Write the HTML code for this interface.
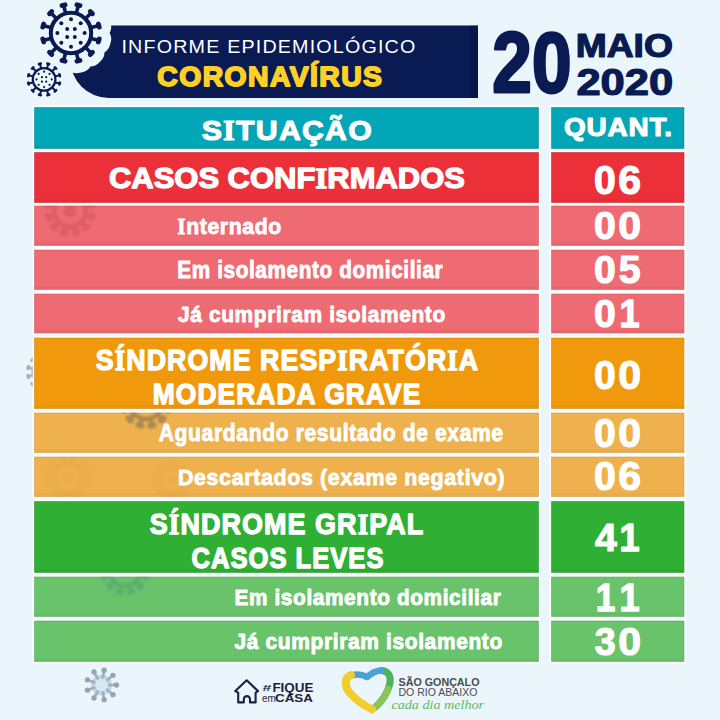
<!DOCTYPE html>
<html><head><meta charset="utf-8">
<style>
html,body{margin:0;padding:0;background:#ebf6fc;}
body{width:720px;height:720px;overflow:hidden;}
svg{display:block;}
text{font-family:"Liberation Sans",sans-serif;}
</style></head>
<body>
<svg width="720" height="720" viewBox="0 0 720 720">
<rect width="720" height="720" fill="#ebf6fc"/>
<defs>
<g id="vhalo" fill="#ebf6fc" stroke="#ebf6fc" stroke-linecap="round">
<circle cx="0" cy="0" r="30"/>
<path stroke-width="16" d="M5.44 -20.28L7.25 -27.05M14.85 -14.85L19.80 -19.80M20.28 -5.44L27.05 -7.25M20.28 5.44L27.05 7.25M14.85 14.85L19.80 19.80M5.44 20.28L7.25 27.05M-5.44 20.28L-7.25 27.05M-14.85 14.85L-19.80 19.80M-20.28 5.44L-27.05 7.25M-20.28 -5.44L-27.05 -7.25M-14.85 -14.85L-19.80 -19.80M-5.44 -20.28L-7.25 -27.05"/>
<path stroke-width="24" d="M5.91 -28.23L9.00 -27.40M19.23 -21.50L21.50 -19.23M27.40 -9.00L28.23 -5.91M28.23 5.91L27.40 9.00M21.50 19.23L19.23 21.50M9.00 27.40L5.91 28.23M-5.91 28.23L-9.00 27.40M-19.23 21.50L-21.50 19.23M-27.40 9.00L-28.23 5.91M-28.23 -5.91L-27.40 -9.00M-21.50 -19.23L-19.23 -21.50M-9.00 -27.40L-5.91 -28.23"/>
</g>
<g id="vir" fill="#0a1a53" stroke="#0a1a53" stroke-linecap="round">
<circle cx="0" cy="0" r="20.2" fill="#eef7fc" stroke-width="4"/>
<path stroke-width="3.6" d="M5.44 -20.28L7.25 -27.05M14.85 -14.85L19.80 -19.80M20.28 -5.44L27.05 -7.25M20.28 5.44L27.05 7.25M14.85 14.85L19.80 19.80M5.44 20.28L7.25 27.05M-5.44 20.28L-7.25 27.05M-14.85 14.85L-19.80 19.80M-20.28 5.44L-27.05 7.25M-20.28 -5.44L-27.05 -7.25M-14.85 -14.85L-19.80 -19.80M-5.44 -20.28L-7.25 -27.05"/>
<path stroke-width="4.8" d="M5.91 -28.23L9.00 -27.40M19.23 -21.50L21.50 -19.23M27.40 -9.00L28.23 -5.91M28.23 5.91L27.40 9.00M21.50 19.23L19.23 21.50M9.00 27.40L5.91 28.23M-5.91 28.23L-9.00 27.40M-19.23 21.50L-21.50 19.23M-27.40 9.00L-28.23 5.91M-28.23 -5.91L-27.40 -9.00M-21.50 -19.23L-19.23 -21.50M-9.00 -27.40L-5.91 -28.23"/>
<g stroke="none">
<circle cx="0" cy="-13.7" r="2"/><circle cx="0" cy="13.7" r="2"/><circle cx="-13.6" cy="0" r="2"/><circle cx="13.6" cy="0" r="2"/>
<circle cx="-9.7" cy="-9.7" r="2"/><circle cx="9.7" cy="-9.7" r="2"/><circle cx="-9.7" cy="9.7" r="2"/><circle cx="9.7" cy="9.7" r="2"/>
<circle cx="-3.8" cy="-4" r="2"/><circle cx="3.8" cy="-4" r="2"/><circle cx="-3.8" cy="4" r="2"/><circle cx="3.8" cy="4" r="2"/>
</g>
</g>
<g id="virg" fill="#8aa0b0" stroke="#8aa0b0" stroke-linecap="round">
<circle cx="0" cy="0" r="20.2" fill="#d5e2ec" stroke-width="5"/>
<path stroke-width="4" d="M5.44 -20.28L7.25 -27.05M14.85 -14.85L19.80 -19.80M20.28 -5.44L27.05 -7.25M20.28 5.44L27.05 7.25M14.85 14.85L19.80 19.80M5.44 20.28L7.25 27.05M-5.44 20.28L-7.25 27.05M-14.85 14.85L-19.80 19.80M-20.28 5.44L-27.05 7.25M-20.28 -5.44L-27.05 -7.25M-14.85 -14.85L-19.80 -19.80M-5.44 -20.28L-7.25 -27.05"/>
<path stroke-width="6" d="M5.91 -28.23L9.00 -27.40M19.23 -21.50L21.50 -19.23M27.40 -9.00L28.23 -5.91M28.23 5.91L27.40 9.00M21.50 19.23L19.23 21.50M9.00 27.40L5.91 28.23M-5.91 28.23L-9.00 27.40M-19.23 21.50L-21.50 19.23M-27.40 9.00L-28.23 5.91M-28.23 -5.91L-27.40 -9.00M-21.50 -19.23L-19.23 -21.50M-9.00 -27.40L-5.91 -28.23"/>
</g>
<g id="virw" fill="currentColor" stroke="currentColor" stroke-linecap="round">
<circle cx="0" cy="0" r="20.2" fill="none" stroke-width="6"/>
<circle cx="0" cy="0" r="8" stroke="none"/>
<path stroke-width="5" d="M5.44 -20.28L7.25 -27.05M14.85 -14.85L19.80 -19.80M20.28 -5.44L27.05 -7.25M20.28 5.44L27.05 7.25M14.85 14.85L19.80 19.80M5.44 20.28L7.25 27.05M-5.44 20.28L-7.25 27.05M-14.85 14.85L-19.80 19.80M-20.28 5.44L-27.05 7.25M-20.28 -5.44L-27.05 -7.25M-14.85 -14.85L-19.80 -19.80M-5.44 -20.28L-7.25 -27.05"/>
<path stroke-width="8" d="M5.91 -28.23L9.00 -27.40M19.23 -21.50L21.50 -19.23M27.40 -9.00L28.23 -5.91M28.23 5.91L27.40 9.00M21.50 19.23L19.23 21.50M9.00 27.40L5.91 28.23M-5.91 28.23L-9.00 27.40M-19.23 21.50L-21.50 19.23M-27.40 9.00L-28.23 5.91M-28.23 -5.91L-27.40 -9.00M-21.50 -19.23L-19.23 -21.50M-9.00 -27.40L-5.91 -28.23"/>
</g>
<filter id="blur1" x="-20%" y="-20%" width="140%" height="140%"><feGaussianBlur stdDeviation="1.3"/></filter>
<filter id="blur05" x="-20%" y="-20%" width="140%" height="140%"><feGaussianBlur stdDeviation="0.6"/></filter>
</defs>
<!-- banner -->
<path d="M70.5 25.4 H478 V98 H108.5 A38 38 0 0 1 70.5 60 Z" fill="#0a1a53"/>
<rect x="470" y="25.4" width="8" height="72.6" fill="#050f3a" opacity="0.35"/>
<use href="#vhalo" transform="translate(71 33)"/>
<use href="#vhalo" transform="translate(44.1 79.4) scale(0.56)"/>
<use href="#vir" transform="translate(71 33)"/>
<use href="#vir" transform="translate(44.1 79.4) scale(0.56)"/>
<text transform="translate(121.43 52.70) scale(1.0296 1)" font-size="19.13" fill="#ffffff" style="font-family:'Liberation Sans';font-weight:normal;font-style:normal;letter-spacing:1.148px">INFORME EPIDEMIOLÓGICO</text>
<text transform="translate(157.27 86.40) scale(1.0142 1)" font-size="27.97" fill="#fdd028" stroke="#fdd028" stroke-width="1.77" stroke-linejoin="round" style="font-family:'Liberation Sans';font-weight:bold;font-style:normal;letter-spacing:1.399px">CORONAVÍRUS</text>
<text transform="translate(492.37 91.54) scale(0.8309 1)" font-size="85.63" fill="#0a1a53" stroke="#0a1a53" stroke-width="2.89" stroke-linejoin="round" style="font-family:'Liberation Sans';font-weight:bold;font-style:normal">20</text>
<text transform="translate(575.70 57.10) scale(1.1209 1)" font-size="33.19" fill="#0a1a53" stroke="#0a1a53" stroke-width="1.25" stroke-linejoin="round" style="font-family:'Liberation Sans';font-weight:bold;font-style:normal">MAIO</text>
<text transform="translate(576.39 94.54) scale(1.2027 1)" font-size="36.20" fill="#0a1a53" stroke="#0a1a53" stroke-width="1.16" stroke-linejoin="round" style="font-family:'Liberation Sans';font-weight:bold;font-style:normal">2020</text>
<!-- wm under rows -->
<use href="#virg" transform="translate(45 372) scale(0.6)" opacity="0.75"/>
<!-- rows -->
<rect x="32.7" y="105.4" width="507.6" height="45.2" fill="#fcfdfd"/>
<rect x="549.7" y="105.4" width="136.1" height="45.2" fill="#fcfdfd"/>
<rect x="32.7" y="150.4" width="507.6" height="54.2" fill="#fcfdfd"/>
<rect x="549.7" y="150.4" width="136.1" height="54.2" fill="#fcfdfd"/>
<rect x="32.7" y="203.9" width="507.6" height="43.7" fill="#fcfdfd"/>
<rect x="549.7" y="203.9" width="136.1" height="43.7" fill="#fcfdfd"/>
<rect x="32.7" y="247.9" width="507.6" height="43.7" fill="#fcfdfd"/>
<rect x="549.7" y="247.9" width="136.1" height="43.7" fill="#fcfdfd"/>
<rect x="32.7" y="291.9" width="507.6" height="43.2" fill="#fcfdfd"/>
<rect x="549.7" y="291.9" width="136.1" height="43.2" fill="#fcfdfd"/>
<rect x="32.7" y="335.9" width="507.6" height="74.7" fill="#fcfdfd"/>
<rect x="549.7" y="335.9" width="136.1" height="74.7" fill="#fcfdfd"/>
<rect x="32.7" y="410.9" width="507.6" height="43.7" fill="#fcfdfd"/>
<rect x="549.7" y="410.9" width="136.1" height="43.7" fill="#fcfdfd"/>
<rect x="32.7" y="454.9" width="507.6" height="43.7" fill="#fcfdfd"/>
<rect x="549.7" y="454.9" width="136.1" height="43.7" fill="#fcfdfd"/>
<rect x="32.7" y="499.4" width="507.6" height="75.2" fill="#fcfdfd"/>
<rect x="549.7" y="499.4" width="136.1" height="75.2" fill="#fcfdfd"/>
<rect x="32.7" y="574.9" width="507.6" height="43.7" fill="#fcfdfd"/>
<rect x="549.7" y="574.9" width="136.1" height="43.7" fill="#fcfdfd"/>
<rect x="32.7" y="618.9" width="507.6" height="44.7" fill="#fcfdfd"/>
<rect x="549.7" y="618.9" width="136.1" height="44.7" fill="#fcfdfd"/>
<rect x="34.5" y="107.5" width="504" height="41" fill="#03a6b6" stroke="#028896" stroke-width="1" stroke-opacity="0.55"/>
<rect x="35" y="145" width="503" height="3" fill="#028896" opacity="0.18"/>
<rect x="551.5" y="107.5" width="132.5" height="41" fill="#03a6b6" stroke="#028896" stroke-width="1" stroke-opacity="0.55"/>
<rect x="552" y="145" width="131.5" height="3" fill="#028896" opacity="0.18"/>
<rect x="34.5" y="152.5" width="504" height="50" fill="#ec3039" stroke="#c4262e" stroke-width="1" stroke-opacity="0.55"/>
<rect x="35" y="199" width="503" height="3" fill="#c4262e" opacity="0.18"/>
<rect x="551.5" y="152.5" width="132.5" height="50" fill="#ec3039" stroke="#c4262e" stroke-width="1" stroke-opacity="0.55"/>
<rect x="552" y="199" width="131.5" height="3" fill="#c4262e" opacity="0.18"/>
<rect x="34.5" y="206.0" width="504" height="39.5" fill="#ee6b73" stroke="#cc5860" stroke-width="1" stroke-opacity="0.55"/>
<rect x="35" y="242" width="503" height="3" fill="#cc5860" opacity="0.18"/>
<rect x="551.5" y="206.0" width="132.5" height="39.5" fill="#ee6b73" stroke="#cc5860" stroke-width="1" stroke-opacity="0.55"/>
<rect x="552" y="242" width="131.5" height="3" fill="#cc5860" opacity="0.18"/>
<rect x="34.5" y="250.0" width="504" height="39.5" fill="#ee6b73" stroke="#cc5860" stroke-width="1" stroke-opacity="0.55"/>
<rect x="35" y="286" width="503" height="3" fill="#cc5860" opacity="0.18"/>
<rect x="551.5" y="250.0" width="132.5" height="39.5" fill="#ee6b73" stroke="#cc5860" stroke-width="1" stroke-opacity="0.55"/>
<rect x="552" y="286" width="131.5" height="3" fill="#cc5860" opacity="0.18"/>
<rect x="34.5" y="294.0" width="504" height="39.0" fill="#ee6b73" stroke="#cc5860" stroke-width="1" stroke-opacity="0.55"/>
<rect x="35" y="329.5" width="503" height="3" fill="#cc5860" opacity="0.18"/>
<rect x="551.5" y="294.0" width="132.5" height="39.0" fill="#ee6b73" stroke="#cc5860" stroke-width="1" stroke-opacity="0.55"/>
<rect x="552" y="329.5" width="131.5" height="3" fill="#cc5860" opacity="0.18"/>
<rect x="34.5" y="338.0" width="504" height="70.5" fill="#f0990c" stroke="#cc820a" stroke-width="1" stroke-opacity="0.55"/>
<rect x="35" y="405" width="503" height="3" fill="#cc820a" opacity="0.18"/>
<rect x="551.5" y="338.0" width="132.5" height="70.5" fill="#f0990c" stroke="#cc820a" stroke-width="1" stroke-opacity="0.55"/>
<rect x="552" y="405" width="131.5" height="3" fill="#cc820a" opacity="0.18"/>
<rect x="34.5" y="413.0" width="504" height="39.5" fill="#efb14d" stroke="#cc9640" stroke-width="1" stroke-opacity="0.55"/>
<rect x="35" y="449" width="503" height="3" fill="#cc9640" opacity="0.18"/>
<rect x="551.5" y="413.0" width="132.5" height="39.5" fill="#efb14d" stroke="#cc9640" stroke-width="1" stroke-opacity="0.55"/>
<rect x="552" y="449" width="131.5" height="3" fill="#cc9640" opacity="0.18"/>
<rect x="34.5" y="457.0" width="504" height="39.5" fill="#efb14d" stroke="#cc9640" stroke-width="1" stroke-opacity="0.55"/>
<rect x="35" y="493" width="503" height="3" fill="#cc9640" opacity="0.18"/>
<rect x="551.5" y="457.0" width="132.5" height="39.5" fill="#efb14d" stroke="#cc9640" stroke-width="1" stroke-opacity="0.55"/>
<rect x="552" y="493" width="131.5" height="3" fill="#cc9640" opacity="0.18"/>
<rect x="34.5" y="501.5" width="504" height="71" fill="#2faf33" stroke="#27922a" stroke-width="1" stroke-opacity="0.55"/>
<rect x="35" y="569" width="503" height="3" fill="#27922a" opacity="0.18"/>
<rect x="551.5" y="501.5" width="132.5" height="71" fill="#2faf33" stroke="#27922a" stroke-width="1" stroke-opacity="0.55"/>
<rect x="552" y="569" width="131.5" height="3" fill="#27922a" opacity="0.18"/>
<rect x="34.5" y="577.0" width="504" height="39.5" fill="#69c36b" stroke="#56a558" stroke-width="1" stroke-opacity="0.55"/>
<rect x="35" y="613" width="503" height="3" fill="#56a558" opacity="0.18"/>
<rect x="551.5" y="577.0" width="132.5" height="39.5" fill="#69c36b" stroke="#56a558" stroke-width="1" stroke-opacity="0.55"/>
<rect x="552" y="613" width="131.5" height="3" fill="#56a558" opacity="0.18"/>
<rect x="34.5" y="621.0" width="504" height="40.5" fill="#69c36b" stroke="#56a558" stroke-width="1" stroke-opacity="0.55"/>
<rect x="35" y="658" width="503" height="3" fill="#56a558" opacity="0.18"/>
<rect x="551.5" y="621.0" width="132.5" height="40.5" fill="#69c36b" stroke="#56a558" stroke-width="1" stroke-opacity="0.55"/>
<rect x="552" y="658" width="131.5" height="3" fill="#56a558" opacity="0.18"/>
<!-- watermarks -->
<clipPath id="cpk"><rect x="34" y="205.5" width="505" height="40.5"/></clipPath>
<clipPath id="clo1"><rect x="34" y="412.5" width="505" height="40.5"/></clipPath>
<clipPath id="clo2"><rect x="34" y="456.5" width="505" height="40.5"/></clipPath>
<clipPath id="clg1"><rect x="34" y="576.5" width="505" height="40.5"/></clipPath>
<g clip-path="url(#cpk)" filter="url(#blur1)" opacity="0.17"><use href="#virw" transform="translate(70 211) scale(0.78)" style="color:#8a2030"/></g>
<g clip-path="url(#clo1)" filter="url(#blur1)" opacity="0.45"><use href="#virw" transform="translate(146 403) scale(0.8)" style="color:#5a5a5a"/></g>
<g clip-path="url(#clo2)" filter="url(#blur1)" opacity="0.045"><use href="#virw" transform="translate(68 478) scale(0.7)" style="color:#7a4a10"/><use href="#virw" transform="translate(172 480) scale(0.6)" style="color:#7a4a10"/></g>
<g clip-path="url(#clg1)" filter="url(#blur1)" opacity="0.22"><use href="#virw" transform="translate(125 571) scale(0.75)" style="color:#3a6a7a"/></g>
<text transform="translate(201.69 140.40) scale(1.0663 1)" font-size="28.41" fill="#ffffff" stroke="#ffffff" stroke-width="1.13" stroke-linejoin="round" style="font-family:'Liberation Sans';font-weight:bold;font-style:normal;letter-spacing:1.136px">S<tspan style="font-family:'Liberation Serif'">I</tspan>TUAÇÃO</text>
<text transform="translate(564.08 135.90) scale(1.1130 1)" font-size="25.07" fill="#ffffff" stroke="#ffffff" stroke-width="1.08" stroke-linejoin="round" style="font-family:'Liberation Sans';font-weight:bold;font-style:normal;letter-spacing:0.752px">QUANT.</text>
<text transform="translate(108.96 187.70) scale(1.0368 1)" font-size="29.86" fill="#ffffff" stroke="#ffffff" stroke-width="1.35" stroke-linejoin="round" style="font-family:'Liberation Sans';font-weight:bold;font-style:normal">CASOS CONF<tspan style="font-family:'Liberation Serif'">I</tspan>RMADOS</text>
<text transform="translate(177.26 233.60) scale(0.9326 1)" font-size="22.75" fill="#ffffff" stroke="#ffffff" stroke-width="0.86" stroke-linejoin="round" style="font-family:'Liberation Sans';font-weight:bold;font-style:normal;letter-spacing:0.683px"><tspan style="font-family:'Liberation Serif'">I</tspan>nternado</text>
<text transform="translate(177.25 278.30) scale(0.9003 1)" font-size="23.04" fill="#ffffff" stroke="#ffffff" stroke-width="0.89" stroke-linejoin="round" style="font-family:'Liberation Sans';font-weight:bold;font-style:normal;letter-spacing:0.691px">Em isolamento domiciliar</text>
<text transform="translate(177.98 321.60) scale(0.9377 1)" font-size="22.32" fill="#ffffff" stroke="#ffffff" stroke-width="0.85" stroke-linejoin="round" style="font-family:'Liberation Sans';font-weight:bold;font-style:normal;letter-spacing:0.670px">Já cumpriram isolamento</text>
<text transform="translate(95.80 369.90) scale(0.9239 1)" font-size="28.99" fill="#ffffff" stroke="#ffffff" stroke-width="1.30" stroke-linejoin="round" style="font-family:'Liberation Sans';font-weight:bold;font-style:normal;letter-spacing:1.159px">S<tspan style="font-family:'Liberation Serif'">Í</tspan>NDROME RESP<tspan style="font-family:'Liberation Serif'">I</tspan>RATÓR<tspan style="font-family:'Liberation Serif'">I</tspan>A</text>
<text transform="translate(152.75 404.30) scale(0.9117 1)" font-size="28.99" fill="#ffffff" stroke="#ffffff" stroke-width="1.32" stroke-linejoin="round" style="font-family:'Liberation Sans';font-weight:bold;font-style:normal;letter-spacing:1.159px">MODERADA GRAVE</text>
<text transform="translate(158.77 440.60) scale(0.8979 1)" font-size="23.48" fill="#ffffff" stroke="#ffffff" stroke-width="0.89" stroke-linejoin="round" style="font-family:'Liberation Sans';font-weight:bold;font-style:normal;letter-spacing:0.704px">Aguardando resultado de exame</text>
<text transform="translate(177.90 484.60) scale(0.9721 1)" font-size="22.03" fill="#ffffff" stroke="#ffffff" stroke-width="0.82" stroke-linejoin="round" style="font-family:'Liberation Sans';font-weight:bold;font-style:normal;letter-spacing:0.661px">Descartados (exame negativo)</text>
<text transform="translate(149.79 533.90) scale(0.9293 1)" font-size="28.99" fill="#ffffff" stroke="#ffffff" stroke-width="1.29" stroke-linejoin="round" style="font-family:'Liberation Sans';font-weight:bold;font-style:normal;letter-spacing:1.159px">S<tspan style="font-family:'Liberation Serif'">Í</tspan>NDROME GR<tspan style="font-family:'Liberation Serif'">I</tspan>PAL</text>
<text transform="translate(191.58 567.90) scale(0.8813 1)" font-size="28.99" fill="#ffffff" stroke="#ffffff" stroke-width="1.36" stroke-linejoin="round" style="font-family:'Liberation Sans';font-weight:bold;font-style:normal;letter-spacing:1.159px">CASOS LEVES</text>
<text transform="translate(234.44 604.60) scale(0.9702 1)" font-size="21.45" fill="#ffffff" stroke="#ffffff" stroke-width="0.82" stroke-linejoin="round" style="font-family:'Liberation Sans';font-weight:bold;font-style:normal;letter-spacing:0.643px">Em isolamento domiciliar</text>
<text transform="translate(234.48 648.60) scale(0.9518 1)" font-size="22.03" fill="#ffffff" stroke="#ffffff" stroke-width="0.84" stroke-linejoin="round" style="font-family:'Liberation Sans';font-weight:bold;font-style:normal;letter-spacing:0.661px">Já cumpriram isolamento</text>
<text transform="translate(594.03 193.99) scale(0.9656 1)" font-size="40.56" fill="#fff" stroke="#fff" stroke-width="1.24" stroke-linejoin="round" style="font-family:'Liberation Sans';font-weight:bold">0</text>
<text transform="translate(618.26 193.99) scale(1.0118 1)" font-size="40.56" fill="#fff" stroke="#fff" stroke-width="1.19" stroke-linejoin="round" style="font-family:'Liberation Sans';font-weight:bold">6</text>
<text transform="translate(594.03 238.91) scale(0.9932 1)" font-size="39.44" fill="#fff" stroke="#fff" stroke-width="1.21" stroke-linejoin="round" style="font-family:'Liberation Sans';font-weight:bold">0</text>
<text transform="translate(618.26 238.91) scale(1.0407 1)" font-size="39.44" fill="#fff" stroke="#fff" stroke-width="1.15" stroke-linejoin="round" style="font-family:'Liberation Sans';font-weight:bold">0</text>
<text transform="translate(594.03 282.91) scale(1.0039 1)" font-size="39.01" fill="#fff" stroke="#fff" stroke-width="1.20" stroke-linejoin="round" style="font-family:'Liberation Sans';font-weight:bold">0</text>
<text transform="translate(618.72 282.91) scale(1.0099 1)" font-size="39.01" fill="#fff" stroke="#fff" stroke-width="1.19" stroke-linejoin="round" style="font-family:'Liberation Sans';font-weight:bold">5</text>
<text transform="translate(594.03 326.81) scale(1.0039 1)" font-size="39.01" fill="#fff" stroke="#fff" stroke-width="1.20" stroke-linejoin="round" style="font-family:'Liberation Sans';font-weight:bold">0</text>
<text transform="translate(619.43 326.81) scale(0.9271 1)" font-size="39.01" fill="#fff" stroke="#fff" stroke-width="1.29" stroke-linejoin="round" style="font-family:'Liberation Sans';font-weight:bold">1</text>
<text transform="translate(594.03 389.00) scale(0.9723 1)" font-size="40.28" fill="#fff" stroke="#fff" stroke-width="1.23" stroke-linejoin="round" style="font-family:'Liberation Sans';font-weight:bold">0</text>
<text transform="translate(618.26 389.00) scale(1.0189 1)" font-size="40.28" fill="#fff" stroke="#fff" stroke-width="1.18" stroke-linejoin="round" style="font-family:'Liberation Sans';font-weight:bold">0</text>
<text transform="translate(594.03 447.40) scale(0.9723 1)" font-size="40.28" fill="#fff" stroke="#fff" stroke-width="1.23" stroke-linejoin="round" style="font-family:'Liberation Sans';font-weight:bold">0</text>
<text transform="translate(618.26 447.40) scale(1.0189 1)" font-size="40.28" fill="#fff" stroke="#fff" stroke-width="1.18" stroke-linejoin="round" style="font-family:'Liberation Sans';font-weight:bold">0</text>
<text transform="translate(594.03 489.80) scale(0.9723 1)" font-size="40.28" fill="#fff" stroke="#fff" stroke-width="1.23" stroke-linejoin="round" style="font-family:'Liberation Sans';font-weight:bold">0</text>
<text transform="translate(618.26 489.80) scale(1.0189 1)" font-size="40.28" fill="#fff" stroke="#fff" stroke-width="1.18" stroke-linejoin="round" style="font-family:'Liberation Sans';font-weight:bold">6</text>
<text transform="translate(595.11 550.72) scale(1.0248 1)" font-size="38.31" fill="#fff" stroke="#fff" stroke-width="1.17" stroke-linejoin="round" style="font-family:'Liberation Sans';font-weight:bold">4</text>
<text transform="translate(619.43 550.72) scale(0.9441 1)" font-size="38.31" fill="#fff" stroke="#fff" stroke-width="1.27" stroke-linejoin="round" style="font-family:'Liberation Sans';font-weight:bold">1</text>
<text transform="translate(595.69 610.92) scale(0.9164 1)" font-size="38.31" fill="#fff" stroke="#fff" stroke-width="1.31" stroke-linejoin="round" style="font-family:'Liberation Sans';font-weight:bold">1</text>
<text transform="translate(619.43 610.92) scale(0.9441 1)" font-size="38.31" fill="#fff" stroke="#fff" stroke-width="1.27" stroke-linejoin="round" style="font-family:'Liberation Sans';font-weight:bold">1</text>
<text transform="translate(594.85 654.52) scale(0.9851 1)" font-size="38.17" fill="#fff" stroke="#fff" stroke-width="1.22" stroke-linejoin="round" style="font-family:'Liberation Sans';font-weight:bold">3</text>
<text transform="translate(618.26 654.52) scale(1.0753 1)" font-size="38.17" fill="#fff" stroke="#fff" stroke-width="1.12" stroke-linejoin="round" style="font-family:'Liberation Sans';font-weight:bold">0</text>
<!-- footer -->
<g filter="url(#blur05)">
<circle cx="101.5" cy="685" r="10.5" fill="#c3d5e2"/>
<path d="M102.72 678.11L103.93 671.21M106.86 680.50L112.22 676.00M108.50 685.00L115.50 685.00M106.86 689.50L112.22 694.00M102.72 691.89L103.93 698.79M98.00 691.06L94.50 697.12M94.92 687.39L88.34 689.79M94.92 682.61L88.34 680.21M98.00 678.94L94.50 672.88" stroke="#9fb2c0" stroke-width="2.8" stroke-linecap="round"/>
<g fill="#93a6b4"><circle cx="104.10" cy="670.23" r="2.7"/><circle cx="112.99" cy="675.36" r="2.7"/><circle cx="116.50" cy="685.00" r="2.7"/><circle cx="112.99" cy="694.64" r="2.7"/><circle cx="104.10" cy="699.77" r="2.7"/><circle cx="94.00" cy="697.99" r="2.7"/><circle cx="87.40" cy="690.13" r="2.7"/><circle cx="87.40" cy="679.87" r="2.7"/><circle cx="94.00" cy="672.01" r="2.7"/></g>
<circle cx="101.5" cy="685" r="6.5" fill="#d8e8f3"/>
</g>
<path d="M238.2 702.4 V692.7 L235.3 691.1 L246.7 680.3 L258 691.1 L255.6 692.7 V702.4 H250 V699.2 A3.1 3.1 0 0 0 243.8 699.2 V702.4 Z" fill="none" stroke="#1b1f40" stroke-width="2.1" stroke-linejoin="round"/>
<g fill="#1b1f40">
<text x="262.6" y="691.3" font-size="9.5" font-weight="bold" textLength="9" lengthAdjust="spacingAndGlyphs">#</text>
<text x="272.4" y="691.75" font-size="12" font-weight="bold" textLength="41" lengthAdjust="spacingAndGlyphs">FIQUE</text>
<text x="262" y="702.2" font-size="11" textLength="13.8" lengthAdjust="spacingAndGlyphs">em</text>
<text x="275" y="702.2" font-size="11.6" font-weight="bold" textLength="37.8" lengthAdjust="spacingAndGlyphs">CASA</text>
</g>
<g fill="none" stroke-linecap="round" stroke-linejoin="round">
<path d="M381.5 670.5 C389.5 671 391.5 678 389.5 685 C387 694 381 702 375.5 707" stroke="#4fb35a" stroke-width="7"/>
<path d="M388 689 C385 697 380 703 375.5 707" stroke="#8cc65a" stroke-width="6.5"/>
<path d="M352 675.5 C358 673.5 363 675 367 677 C371 673.5 376 670.5 381.5 670.5" stroke="#4aa3d6" stroke-width="6.5"/>
<path d="M351 675 C345 677 344 685 349 692 C355 699 365 706 372 709.5" stroke="#f1cd2e" stroke-width="8"/>
</g>
<g fill="#4b4b4b">
<text x="398.5" y="685.5" font-size="11.2" font-weight="bold" textLength="81" lengthAdjust="spacingAndGlyphs">SÃO GONÇALO</text>
<text x="398.5" y="695.5" font-size="11.2" textLength="79" lengthAdjust="spacingAndGlyphs">DO RIO ABAIXO</text>
</g>
<text x="391.5" y="708.5" font-size="13.5" style="font-family:'Liberation Serif',serif;font-style:italic" fill="#5db85a" textLength="92.5" lengthAdjust="spacingAndGlyphs">cada dia melhor</text>
</svg>
</body></html>
